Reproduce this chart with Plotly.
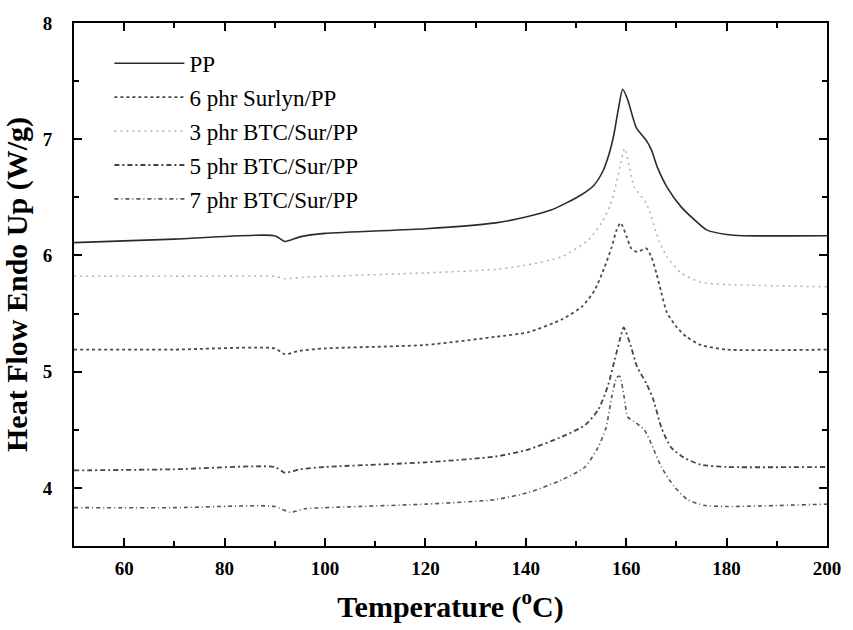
import plotly.graph_objects as go

# Temperature (°C) and heat flow (W/g)
pp_T = [50, 70, 90, 92, 95, 100, 120, 134, 140, 145, 148, 151, 153.5, 155.3, 156.5, 157.5, 158.4, 159.3, 160.3, 162.0, 164.0, 165.0, 166.2, 168.1, 170.9, 173.5, 176.0, 180.0, 183.3, 200]
pp_H = [6.11, 6.14, 6.17, 6.12, 6.16, 6.19, 6.23, 6.28, 6.33, 6.39, 6.45, 6.52, 6.60, 6.72, 6.86, 7.03, 7.25, 7.43, 7.34, 7.10, 6.99, 6.91, 6.76, 6.59, 6.42, 6.31, 6.22, 6.18, 6.17, 6.17]

sur6_T = [50, 70, 90, 92, 95, 100, 120, 134, 140.5, 147.2, 151.2, 153.7, 155.7, 157.1, 158.1, 158.9, 160.1, 161.0, 162.2, 164.0, 165.0, 166.0, 167.0, 168.1, 170.1, 172.0, 174.8, 180.0, 200]
sur6_H = [5.19, 5.19, 5.20, 5.15, 5.18, 5.20, 5.23, 5.30, 5.34, 5.45, 5.56, 5.70, 5.90, 6.07, 6.22, 6.28, 6.16, 6.06, 6.03, 6.06, 5.99, 5.85, 5.68, 5.51, 5.38, 5.30, 5.23, 5.19, 5.19]

btc3_T = [50, 70, 90, 92, 95, 100, 120, 134, 140.5, 147.2, 152.4, 155.1, 156.7, 157.7, 158.7, 159.7, 161.6, 164.0, 166.6, 168.1, 170.9, 174.8, 180.0, 200]
btc3_H = [5.82, 5.82, 5.82, 5.80, 5.81, 5.82, 5.85, 5.88, 5.92, 5.99, 6.13, 6.28, 6.42, 6.56, 6.75, 6.92, 6.59, 6.45, 6.12, 5.99, 5.85, 5.77, 5.75, 5.73]

btc5_T = [50, 70, 90, 92, 95, 100, 120, 134, 140.5, 147.2, 151.8, 154.4, 156.3, 157.7, 158.7, 159.5, 160.7, 162.2, 164.0, 165.4, 167.0, 168.9, 171.5, 174.8, 180.0, 200]
btc5_H = [4.15, 4.16, 4.18, 4.13, 4.16, 4.18, 4.22, 4.27, 4.33, 4.44, 4.54, 4.67, 4.87, 5.10, 5.27, 5.38, 5.25, 5.04, 4.90, 4.76, 4.52, 4.35, 4.26, 4.20, 4.18, 4.18]

btc7_T = [50, 70, 90, 93, 96, 100, 120, 134, 140.5, 147.2, 151.8, 154.4, 156.0, 157.1, 158.1, 158.7, 159.6, 160.3, 161.6, 163.6, 164.9, 167.0, 169.6, 172.2, 175.5, 180.0, 200]
btc7_H = [3.83, 3.83, 3.84, 3.79, 3.82, 3.83, 3.86, 3.90, 3.96, 4.07, 4.18, 4.35, 4.52, 4.78, 4.95, 4.96, 4.78, 4.61, 4.57, 4.50, 4.39, 4.18, 4.01, 3.90, 3.85, 3.84, 3.86]

names = ["PP", "6 phr Surlyn/PP", "3 phr BTC/Sur/PP", "5 phr BTC/Sur/PP", "7 phr BTC/Sur/PP"]

series = [
    (pp_T, pp_H, dict(color="#2b2b2b", width=1.6, dash="solid")),
    (sur6_T, sur6_H, dict(color="#4a4a4a", width=1.8, dash="3px,3px")),
    (btc3_T, btc3_H, dict(color="#b0b0b0", width=1.5, dash="2px,4px")),
    (btc5_T, btc5_H, dict(color="#444444", width=1.8, dash="5px,3px,2px,3px")),
    (btc7_T, btc7_H, dict(color="#555555", width=1.6, dash="4px,3px,1px,3px")),
]

fig = go.Figure()
for i, (name, (t, h, ln)) in enumerate(zip(names, series)):
    fig.add_trace(go.Scatter(x=t, y=h, mode="lines", name=name, line=dict(shape="spline", smoothing=0.6, **ln),
                             legendgroup=f"g{i}"))

serif = "Liberation Serif, Times New Roman, serif"
axis_common = dict(
    showline=True, linecolor="black", linewidth=2, mirror="allticks",
    ticks="inside", ticklen=8, tickwidth=2, tickcolor="black",
    showgrid=False, zeroline=False,
    tickfont=dict(family=serif, size=19, color="black", weight="bold"),
)

fig.update_xaxes(range=[50, 200], dtick=20, tick0=0, ticklabelstandoff=4,
                 minor=dict(ticks="inside", dtick=10, ticklen=5, tickwidth=1.5, tickcolor="black", showgrid=False),
                 title=dict(text="Temperature (<sup>o</sup>C)", font=dict(family=serif, size=30, color="black", weight="bold"), standoff=18),
                 **axis_common)
fig.update_yaxes(range=[3.5, 8], dtick=1, tick0=0, ticklabelstandoff=16,
                 minor=dict(ticks="inside", dtick=0.5, ticklen=5, tickwidth=1.5, tickcolor="black", showgrid=False),
                 title=dict(text="Heat Flow Endo Up (W/g)", font=dict(family=serif, size=30, color="black", weight="bold"), standoff=8),
                 **axis_common)

fig.update_layout(
    width=853, height=630,
    margin=dict(l=74, r=19, t=23, b=84),
    plot_bgcolor="white", paper_bgcolor="white",
    legend=dict(x=0.047, y=0.964, xanchor="left", yanchor="top", bgcolor="rgba(0,0,0,0)",
                font=dict(family=serif, size=23, color="black"), tracegroupgap=1, itemwidth=70),
    showlegend=True,
)

fig.write_html("out.html")
